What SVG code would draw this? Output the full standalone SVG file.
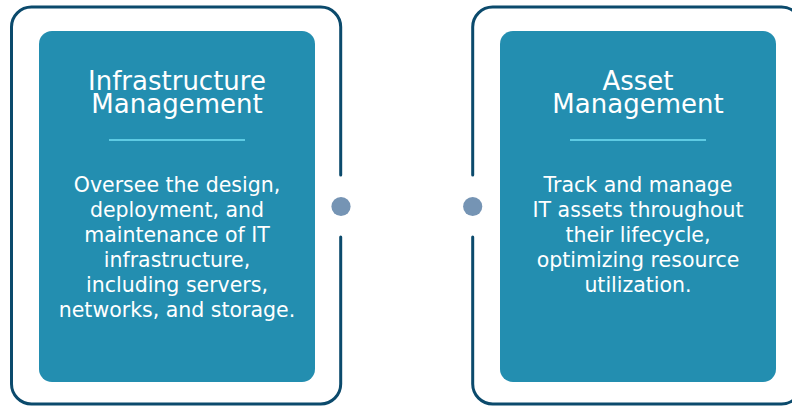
<svg xmlns="http://www.w3.org/2000/svg" width="792" height="406" viewBox="0 0 792 406">
<style>
.frame{fill:none;stroke:#0b4a6c;stroke-width:3;stroke-linecap:round}
.box{fill:#238eb0}
.sep{stroke:#5ecbe3;stroke-width:2.2}
.dot{fill:#7594b4}
.title{font-family:"DejaVu Sans","Noto Sans",sans-serif;font-size:26px;fill:#ffffff;text-anchor:middle}
.body{font-family:"DejaVu Sans","Noto Sans",sans-serif;font-size:20.5px;fill:#ffffff;text-anchor:middle}
</style>
<rect width="792" height="406" fill="#ffffff"/>
<g id="connectors">
<circle class="dot" cx="341" cy="206.5" r="9.6"/>
<circle class="dot" cx="472.7" cy="206.5" r="9.6"/>
</g>
<g id="node-infrastructure">
<path class="frame" d="M340.7,175 V27 A20,20 0 0 0 320.7,7 H31.5 A20,20 0 0 0 11.5,27 V384 A20,20 0 0 0 31.5,404 H320.7 A20,20 0 0 0 340.7,384 V237"/>
<rect class="box" x="39" y="31" width="276" height="351" rx="13"/>
<text class="title"><tspan x="177" y="90">Infrastructure</tspan><tspan x="177" y="112.7">Management</tspan></text>
<line class="sep" x1="109" y1="140" x2="245" y2="140"/>
<text class="body" x="177" y="191.7">Oversee the design,</text>
<text class="body" x="177" y="216.7">deployment, and</text>
<text class="body" x="177" y="241.7">maintenance of IT</text>
<text class="body" x="177" y="266.7">infrastructure,</text>
<text class="body" x="177" y="291.7">including servers,</text>
<text class="body" x="177" y="317">networks, and storage.</text>
</g>
<g id="node-asset">
<path class="frame" d="M472.7,237 V384 A20,20 0 0 0 492.7,404 H781.5 A20,20 0 0 0 801.5,384 V27 A20,20 0 0 0 781.5,7 H492.7 A20,20 0 0 0 472.7,27 V175"/>
<rect class="box" x="500" y="31" width="276" height="351" rx="13"/>
<text class="title"><tspan x="638" y="90">Asset</tspan><tspan x="638" y="112.7">Management</tspan></text>
<line class="sep" x1="570" y1="140" x2="706" y2="140"/>
<text class="body" x="638" y="191.7">Track and manage</text>
<text class="body" x="638" y="216.7">IT assets throughout</text>
<text class="body" x="638" y="241.7">their lifecycle,</text>
<text class="body" x="638" y="266.7">optimizing resource</text>
<text class="body" x="638" y="291.7">utilization.</text>
</g>
</svg>
